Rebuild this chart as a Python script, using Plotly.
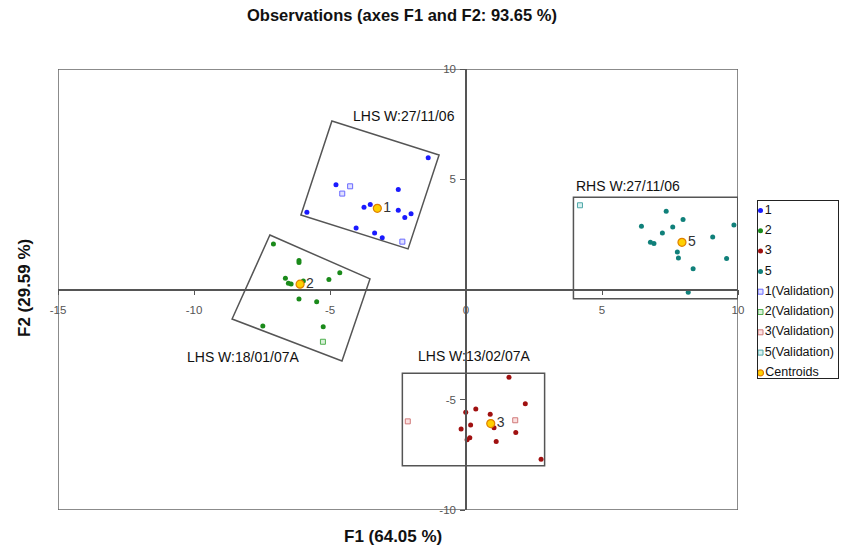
import plotly.graph_objects as go

# ---------------- data ----------------
g1_x = [-1.39, -4.78, -2.49, -5.85, -3.75, -3.52, -2.49, -2.25, -2.02, -4.04, -3.36, -3.08]
g1_y = [5.98, 4.75, 4.54, 3.50, 3.73, 3.85, 3.59, 3.26, 3.44, 2.79, 2.56, 2.35]
g2_x = [-7.08, -6.14, -6.14, -4.64, -6.64, -6.53, -6.43, -5.98, -5.04, -6.14, -5.49, -5.25, -7.47]
g2_y = [2.06, 1.32, 1.23, 0.76, 0.51, 0.28, 0.25, 0.39, 0.45, -0.43, -0.55, -1.69, -1.66]
g3_x = [1.58, 2.18, 0.36, -0.01, 0.89, 1.03, 0.17, -0.18, 1.83, 0.14, 0.04, 1.11, 2.76]
g3_y = [-3.98, -5.18, -5.42, -5.57, -5.66, -6.27, -6.15, -6.33, -6.48, -6.72, -6.81, -6.89, -7.70]
g5_x = [7.36, 7.98, 6.45, 7.60, 9.85, 7.22, 9.07, 6.78, 6.91, 7.77, 7.81, 9.58, 8.35, 8.17]
g5_y = [3.55, 3.17, 2.87, 2.83, 2.93, 2.56, 2.38, 2.14, 2.09, 1.70, 1.43, 1.41, 0.94, -0.13]

v1_x = [-4.26, -4.55, -2.34]
v1_y = [4.68, 4.35, 2.17]
v2_x = [-5.26]
v2_y = [-2.37]
v3_x = [-2.14, 1.81]
v3_y = [-5.98, -5.93]
v5_x = [4.19]
v5_y = [3.82]

cent_x = [-3.26, -6.10, 0.91, 7.94]
cent_y = [3.68, 0.24, -6.08, 2.14]
cent_labels = ["1", "2", "3", "5"]

box_labels = ["LHS W:27/11/06", "LHS W:18/01/07A", "LHS W:13/02/07A", "RHS W:27/11/06"]
box_label_x = [-2.28, -8.2, 0.29, 5.96]
box_label_y = [7.85, -3.06, -3.02, 4.69]
box_corners = [
    [(-4.93, 7.64), (-0.99, 6.10), (-2.13, 1.84), (-6.07, 3.38)],
    [(-7.21, 2.47), (-3.53, 0.48), (-4.56, -3.24), (-8.60, -1.34)],
    [(-2.34, -3.80), (2.89, -3.80), (2.89, -7.99), (-2.34, -7.99)],
    [(3.95, 4.18), (9.99, 4.18), (9.99, -0.42), (3.95, -0.42)],
]

x_ticks = [-15, -10, -5, 0, 5, 10]
y_ticks = [-10, -5, 5, 10]
x_range = [-15, 10]
y_range = [-10, 10]

legend_names = ["1", "2", "3", "5", "1(Validation)", "2(Validation)",
                "3(Validation)", "5(Validation)", "Centroids"]

# ---------------- styles ----------------
FONT = "Arial, Liberation Sans, sans-serif"
blue, green, red, teal = "#1a1aff", "#1a8a1a", "#a01010", "#10807a"
styles = [
    dict(symbol="circle", size=5, color=blue, line=dict(width=0)),
    dict(symbol="circle", size=5, color=green, line=dict(width=0)),
    dict(symbol="circle", size=5, color=red, line=dict(width=0)),
    dict(symbol="circle", size=5, color=teal, line=dict(width=0)),
    dict(symbol="square", size=5, color="#e0e0ff", line=dict(width=1, color="#6a6aff")),
    dict(symbol="square", size=5, color="#d8f0d8", line=dict(width=1, color="#50b050")),
    dict(symbol="square", size=5, color="#fbe0e0", line=dict(width=1, color="#d07a7a")),
    dict(symbol="square", size=5, color="#d8f0f0", line=dict(width=1, color="#50a8a8")),
    dict(symbol="circle", size=8, color="#ffd000", line=dict(width=1.2, color="#e08000")),
]
series = [(g1_x, g1_y), (g2_x, g2_y), (g3_x, g3_y), (g5_x, g5_y),
          (v1_x, v1_y), (v2_x, v2_y), (v3_x, v3_y), (v5_x, v5_y)]

W, H = 842, 549
ML, MR, MT, MB = 58, 4, 69, 39
pw = W - ML - MR
main_frac = 680 / pw
leg_x0 = (758 - ML) / pw
ph = H - MT - MB
leg_y0 = (510 - 378) / ph
leg_y1 = (510 - 201) / ph

fig = go.Figure()

for (xs, ys), st, nm in zip(series, styles[:8], legend_names[:8]):
    fig.add_trace(go.Scatter(x=xs, y=ys, mode="markers", marker=st, name=nm,
                             showlegend=False, xaxis="x", yaxis="y", hoverinfo="x+y"))

fig.add_trace(go.Scatter(x=cent_x, y=cent_y, mode="markers+text", marker=styles[8],
                         text=cent_labels, textposition="middle right",
                         textfont=dict(family=FONT, size=14, color="#333333"),
                         name="Centroids", showlegend=False, xaxis="x", yaxis="y"))

# custom legend drawn on a second pair of axes
for i, (nm, st) in enumerate(zip(legend_names, styles)):
    st2 = dict(st)
    st2["size"] = 5 if i < 8 else 6
    fig.add_trace(go.Scatter(x=[2.5], y=[9.5 + 20.3 * i], mode="markers+text",
                             marker=st2, text=[nm], textposition="middle right",
                             textfont=dict(family=FONT, size=12.5, color="#111111"),
                             showlegend=False, xaxis="x2", yaxis="y2", hoverinfo="skip"))

shapes = []
for corners in box_corners:
    path = "M " + " L ".join(f"{cx},{cy}" for cx, cy in corners) + " Z"
    shapes.append(dict(type="path", path=path, xref="x", yref="y",
                       line=dict(color="#555555", width=1.5)))
shapes.append(dict(type="rect", xref="x", yref="y", x0=x_range[0], x1=x_range[1],
                   y0=y_range[0], y1=y_range[1], line=dict(color="#666666", width=1.5),
                   layer="below"))

annotations = []
for t, ax_, ay_ in zip(box_labels, box_label_x, box_label_y):
    annotations.append(dict(x=ax_, y=ay_, xref="x", yref="y", text=t, showarrow=False,
                            xanchor="center", yanchor="middle",
                            font=dict(family=FONT, size=14, color="#111111")))
annotations.append(dict(x=(402 - ML) / pw, y=(510 - 15) / ph, xref="paper", yref="paper",
                        xanchor="center", yanchor="middle",
                        text="<b>Observations (axes F1 and F2: 93.65 %)</b>", showarrow=False,
                        font=dict(family=FONT, size=16.5, color="#111111")))
annotations.append(dict(x=(393 - ML) / pw, y=(510 - 536) / ph, xref="paper", yref="paper",
                        xanchor="center", yanchor="middle",
                        text="<b>F1 (64.05 %)</b>", showarrow=False,
                        font=dict(family=FONT, size=17, color="#111111")))
annotations.append(dict(x=(24 - ML) / pw, y=(510 - 288) / ph, xref="paper", yref="paper",
                        xanchor="center", yanchor="middle",
                        text="<b>F2 (29.59 %)</b>", showarrow=False, textangle=-90,
                        font=dict(family=FONT, size=17, color="#111111")))

y_pos = (0 - y_range[0]) / (y_range[1] - y_range[0])
x_pos = (0 - x_range[0]) / (x_range[1] - x_range[0]) * main_frac

fig.update_layout(
    template="none",
    width=W, height=H,
    margin=dict(l=ML, r=MR, t=MT, b=MB, pad=0),
    paper_bgcolor="white", plot_bgcolor="white",
    showlegend=False,
    xaxis=dict(domain=[0, main_frac], range=x_range, anchor="free", position=y_pos,
               automargin=False,
               showgrid=False, zeroline=False, showline=True, linecolor="#555555",
               linewidth=1.5, ticks="outside", ticklen=5, tickwidth=1.2, tickcolor="#555555",
               ticklabelstandoff=5,
               tickvals=x_ticks, ticktext=[str(v) for v in x_ticks],
               tickfont=dict(family=FONT, size=11.5, color="#555555")),
    yaxis=dict(domain=[0, 1], range=y_range, anchor="free", position=x_pos,
               automargin=False,
               showgrid=False, zeroline=False, showline=True, linecolor="#555555",
               linewidth=1.5, ticks="outside", ticklen=5, tickwidth=1.2, tickcolor="#555555",
               ticklabelstandoff=2,
               tickvals=y_ticks, ticktext=[str(v) for v in y_ticks],
               tickfont=dict(family=FONT, size=11.5, color="#555555")),
    xaxis2=dict(domain=[leg_x0, 1], range=[0, 80], showgrid=False, zeroline=False,
                automargin=False, ticks="",
                showticklabels=False, showline=True, mirror=True, linecolor="#222222",
                linewidth=1, anchor="y2", fixedrange=True),
    yaxis2=dict(domain=[leg_y0, leg_y1], range=[177, 0], showgrid=False, zeroline=False,
                automargin=False, ticks="",
                showticklabels=False, showline=True, mirror=True, linecolor="#222222",
                linewidth=1, anchor="x2", fixedrange=True),
    shapes=shapes,
    annotations=annotations,
)

fig.write_html("out.html")
